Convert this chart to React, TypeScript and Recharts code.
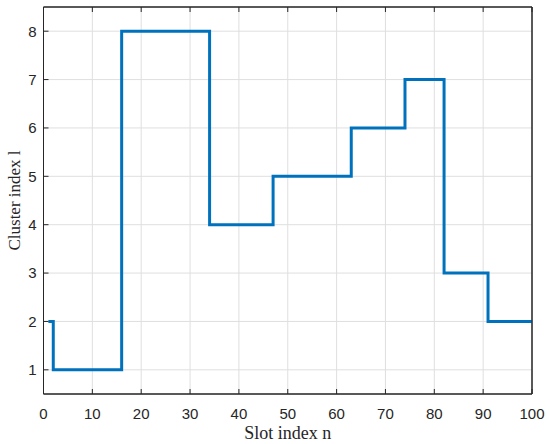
import { CartesianGrid, Line, LineChart, XAxis, YAxis, Label, ReferenceArea } from "recharts";

const slots = [1, 2, 16, 34, 47, 63, 74, 82, 91, 100];
const clusters = [2, 1, 8, 4, 5, 6, 7, 3, 2, 2];
const xTicks = [0, 10, 20, 30, 40, 50, 60, 70, 80, 90, 100];
const yTicks = [1, 2, 3, 4, 5, 6, 7, 8];

const data = slots.map((n, i) => ({ n, l: clusters[i] }));

const axisColor = "#262626";
const tickFont = { fontSize: 15, fill: axisColor, fontFamily: "'Liberation Sans', Arial, sans-serif" };
const labelFont = { fontSize: 18, fill: axisColor, fontFamily: "'Liberation Serif', 'Times New Roman', serif" };
const line = { stroke: axisColor, strokeWidth: 1 };

export default function App() {
  return (
    <div style={{ position: "absolute", left: 0, top: 0, width: 550, height: 444, background: "#fff" }}>
      <LineChart width={550} height={444} data={data} margin={{ top: 6, right: 17, left: 0, bottom: 0 }}>
        <CartesianGrid xAxisId="b" yAxisId="l" stroke="#dfdfdf" strokeWidth={1} />
        <XAxis
          xAxisId="b"
          dataKey="n"
          type="number"
          domain={[0, 100]}
          ticks={xTicks}
          height={50}
          tickSize={-5}
          tickMargin={19}
          axisLine={line}
          tickLine={line}
          tick={tickFont}
        >
          <Label value="Slot index n" position="insideBottom" offset={5} style={labelFont} />
        </XAxis>
        <XAxis
          xAxisId="t"
          orientation="top"
          dataKey="n"
          type="number"
          domain={[0, 100]}
          ticks={xTicks}
          height={1}
          tickSize={-5}
          tickFormatter={() => ""}
          axisLine={line}
          tickLine={line}
        />
        <YAxis
          yAxisId="l"
          type="number"
          domain={[0.5, 8.5]}
          ticks={yTicks}
          width={43.5}
          tickSize={-5}
          tickMargin={12}
          axisLine={line}
          tickLine={line}
          tick={tickFont}
        >
          <Label value="Cluster index l" angle={-90} position="insideLeft" offset={14} style={{ ...labelFont, fontSize: 17, textAnchor: "middle" }} />
        </YAxis>
        <YAxis
          yAxisId="r"
          orientation="right"
          type="number"
          domain={[0.5, 8.5]}
          ticks={yTicks}
          width={1}
          tickSize={-5}
          tickFormatter={() => ""}
          axisLine={line}
          tickLine={line}
        />
        <ReferenceArea xAxisId="b" yAxisId="l" x1={0} x2={100} y1={0.5} y2={8.5} fill="none" stroke={axisColor} strokeWidth={1} ifOverflow="visible" />
        <Line
          xAxisId="b"
          yAxisId="l"
          type="stepAfter"
          dataKey="l"
          stroke="#0072BD"
          strokeWidth={3}
          dot={false}
          isAnimationActive={false}
        />
      </LineChart>
    </div>
  );
}
